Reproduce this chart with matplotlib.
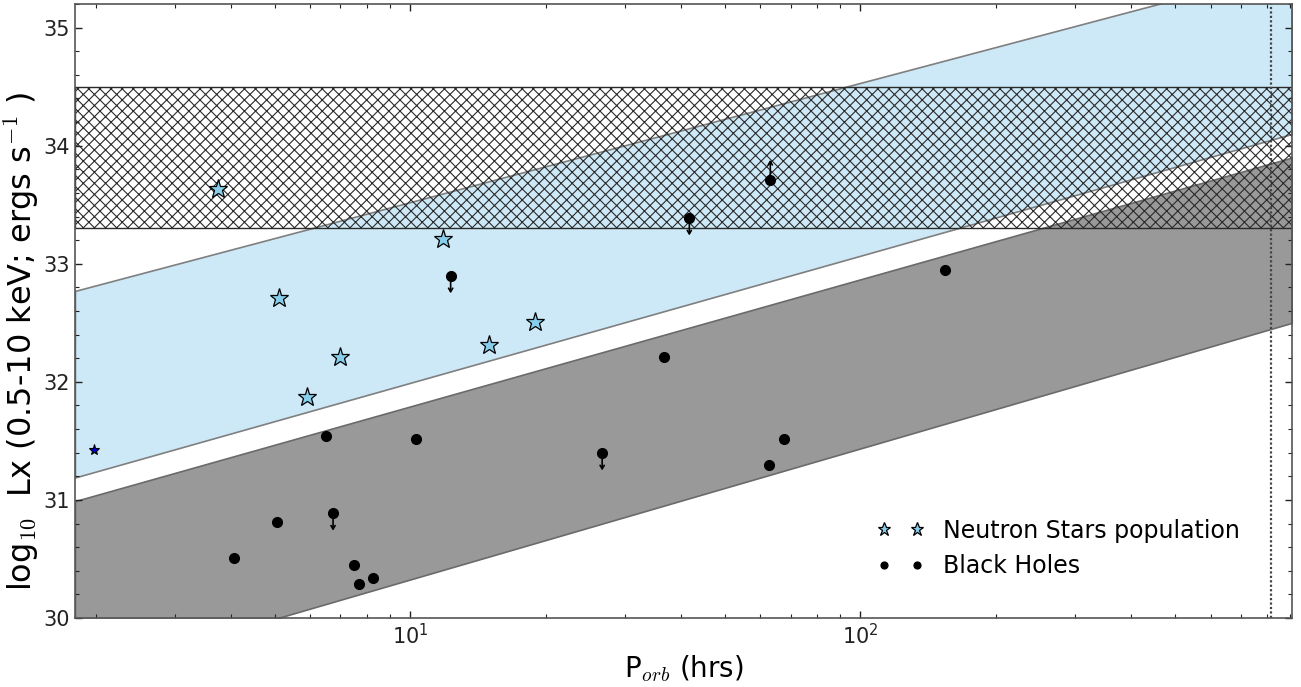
import numpy as np
import matplotlib
matplotlib.use("Agg")
import matplotlib.pyplot as plt
from matplotlib.ticker import FixedLocator, FuncFormatter, MultipleLocator

# Neutron stars (orbital period in hrs, log10 Lx)
ns_p = [3.74, 5.12, 5.90, 6.98, 11.8, 15.0, 18.9]
ns_lx = [33.63, 32.71, 31.87, 32.21, 33.21, 32.31, 32.51]
# odd one out, small dark star
ns2_p = [1.98]
ns2_lx = [31.42]

# Black holes
bh_p = [4.06, 5.06, 6.51, 7.52, 7.71, 8.28, 10.3, 36.6, 62.8, 67.8, 154.5]
bh_lx = [30.51, 30.81, 31.54, 30.45, 30.29, 30.34, 31.52, 32.21, 31.30, 31.52, 32.95]
# upper limits (arrow down)
bh_ul_p = [6.74, 12.3, 26.7, 41.7]
bh_ul_lx = [30.89, 32.90, 31.40, 33.39]
# lower limits (arrow up)
bh_ll_p = [63.1]
bh_ll_lx = [33.71]

# band edges, given at the two ends of the x range
band_p = [1.8, 910]
ns_band_lo = [31.19, 34.10]
ns_band_hi = [32.77, 35.50]
bh_band_lo = [29.50, 32.50]
bh_band_hi = [30.99, 33.90]
hatch_lo, hatch_hi = 33.3, 34.5
p_cut = 816

plt.rcParams['hatch.linewidth'] = 0.8

fig = plt.figure(figsize=(13.01, 6.87), dpi=100)
ax = fig.add_axes([0.0576, 0.1004, 0.9355, 0.8938])
ax.set_xscale('log')

ax.fill_between(band_p, ns_band_lo, ns_band_hi, facecolor='#cde9f7',
                edgecolor='#7f7f7f', linewidth=1.2, zorder=1)
ax.fill_between(band_p, bh_band_lo, bh_band_hi, facecolor='#999999',
                edgecolor='#6a6a6a', linewidth=1.2, zorder=1)
ax.axhspan(hatch_lo, hatch_hi, facecolor='none', edgecolor='#2a2a2a',
           hatch='xxx', linewidth=1.0, zorder=2)
ax.axvline(p_cut, color='#444444', linestyle=(0, (1, 1)), linewidth=1.6, zorder=2)

ax.plot(ns_p, ns_lx, '*', ms=14, mfc='#87ceeb', mec='k', mew=0.9,
        linestyle='none', zorder=5, label='Neutron Stars population')
ax.plot(ns2_p, ns2_lx, '*', ms=8, mfc='#0000cc', mec='k', mew=0.8,
        linestyle='none', zorder=5)
ax.plot(bh_p + bh_ul_p + bh_ll_p, bh_lx + bh_ul_lx + bh_ll_lx, 'o', ms=7,
        color='k', linestyle='none', zorder=5, label='Black Holes')

arrow = dict(arrowstyle='->,head_length=0.25,head_width=0.15', color='k', lw=1.2,
             shrinkA=0, shrinkB=0)
for p, lx in zip(bh_ul_p, bh_ul_lx):
    ax.annotate('', xy=(p, lx - 0.15), xytext=(p, lx), arrowprops=arrow, zorder=4)
for p, lx in zip(bh_ll_p, bh_ll_lx):
    ax.annotate('', xy=(p, lx + 0.17), xytext=(p, lx), arrowprops=arrow, zorder=4)

ax.set_xlim(1.8, 910)
ax.set_ylim(30, 35.2)

ax.xaxis.set_major_locator(FixedLocator([10, 100]))
ax.xaxis.set_major_formatter(FuncFormatter(
    lambda v, pos: r'$\mathregular{10^{%d}}$' % round(np.log10(v))))
ax.yaxis.set_major_locator(MultipleLocator(1))
ax.yaxis.set_minor_locator(MultipleLocator(0.2))
ax.tick_params(which='both', direction='in', top=True, right=True,
               colors='#222222', labelsize=15)
ax.tick_params(which='major', length=5, width=1)
ax.tick_params(which='minor', length=3, width=0.8)
for s in ax.spines.values():
    s.set_color('#555555')
    s.set_linewidth(1.2)

ax.set_xlabel(r'P$_{orb}$ (hrs)', fontsize=20, math_fontfamily='cm')
ax.set_ylabel(r'log$_{10}$  Lx (0.5-10 keV; ergs s$^{-1}$ )', fontsize=23,
              math_fontfamily='cm')
ax.yaxis.set_label_coords(-0.028, 0.45)

ax.legend(loc='lower right', numpoints=2, frameon=False, fontsize=17,
          markerscale=0.7, bbox_to_anchor=(0.975, 0.03))

fig.savefig('out.png', dpi=100)
